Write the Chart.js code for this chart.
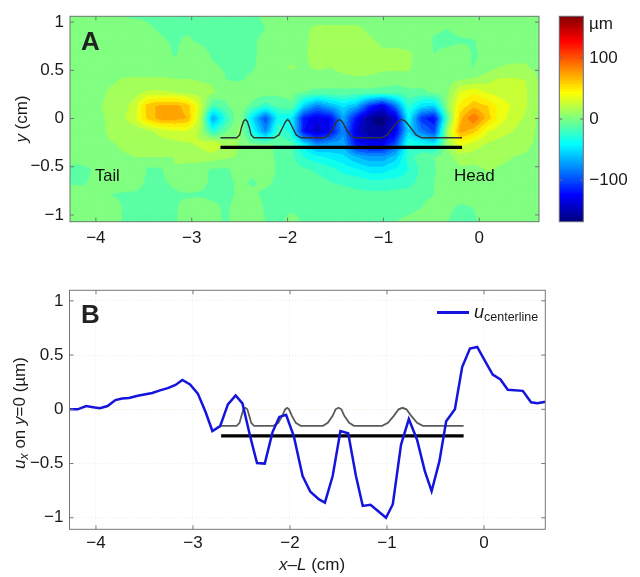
<!DOCTYPE html>
<html>
<head>
<meta charset="utf-8">
<script src="https://cdn.jsdelivr.net/npm/chart.js@4"></script>
<style>
  body { margin: 0; background: #fff; font-family: "Liberation Sans", Arial, sans-serif; color: #1a1a1a; }
  #page { position: relative; width: 640px; height: 577px; overflow: hidden; }
  canvas { position: absolute; }
  .note { position: absolute; white-space: nowrap; line-height: 1; }
  .rot { transform: translate(-50%, -50%) rotate(-90deg); }
  .panel { font-weight: bold; font-size: 26px; color: #222; }
  sub { font-size: 0.72em; vertical-align: -0.25em; line-height: 0; }
</style>
</head>
<body>
<div id="page">
  <canvas id="fieldChart" style="left:0;top:0"></canvas>
  <canvas id="barChart" style="left:540px;top:0"></canvas>
  <canvas id="lineChart" style="left:0;top:270px"></canvas>

  <div class="note panel" style="left:81px;top:28px">A</div>
  <div class="note panel" style="left:81px;top:301px">B</div>
  <div class="note" style="left:95px;top:167px;font-size:16.5px;color:#111">Tail</div>
  <div class="note" style="left:454px;top:167px;font-size:17px;color:#111">Head</div>
  <div class="note" style="left:589px;top:15px;font-size:17px">&micro;m</div>
  <div class="note rot" style="left:21px;top:119px;font-size:17px"><i>y</i> (cm)</div>
  <div class="note rot" style="left:19px;top:413px;font-size:17px"><i>u<sub>x</sub></i> on <i>y</i>=0 (&micro;m)</div>
  <div class="note" style="left:279px;top:556px;font-size:17px"><i>x</i>&ndash;<i>L</i> (cm)</div>
  <div class="note" style="left:437px;top:311px;width:32px;height:2.5px;background:#1414dc"></div>
  <div class="note" style="left:474px;top:303px;font-size:18px"><i>u</i><sub style="font-size:12.5px">centerline</sub></div>
</div>

<script>
// tick labels
const xTicks = [-4, -3, -2, -1, 0];
const yTicks = [-1, -0.5, 0, 0.5, 1];
const barTicks = [-100, 0, 100];

// displacement field on the fish plane (um)
const xGrid = [-4.27,-4.13,-4.0,-3.86,-3.73,-3.59,-3.46,-3.32,-3.18,-3.05,-2.91,-2.78,-2.64,-2.5,-2.37,-2.23,-2.1,-1.96,-1.83,-1.69,-1.55,-1.42,-1.28,-1.15,-1.01,-0.88,-0.74,-0.6,-0.47,-0.33,-0.2,-0.06,0.08,0.21,0.35,0.48,0.62];
const yGrid = [1.06,0.93,0.8,0.66,0.53,0.4,0.27,0.13,0,-0.13,-0.27,-0.4,-0.53,-0.66,-0.8,-0.93,-1.07];
const fieldRows = [
  [0,0,0,0,-6,-8,-8,-8,-8,-8,-8,-8,-8,-8,-8,-4,0,2,4,2,2,2,2,2,2,0,2,0,0,0,2,2,2,4,4,2,0],
  [0,0,0,0,0,2,-4,-8,-8,-8,-8,-10,-8,-10,-10,-6,0,2,4,8,8,8,8,4,0,2,2,2,-4,-6,-2,0,2,4,2,0,0],
  [0,0,0,0,0,0,0,-4,-8,-4,-8,-10,-10,-10,-8,-2,2,2,4,10,12,12,12,8,4,4,4,2,-8,-9,-8,-7,0,0,0,0,0],
  [0,0,0,0,0,0,0,0,-7,-2,0,-8,-10,-10,-8,-2,2,2,4,12,14,14,14,12,8,8,7,4,-6,-2,4,-8,-2,2,2,2,0],
  [0,0,0,0,0,0,0,0,-2,-2,0,-4,-8,-8,-7,-2,4,7,4,8,6,14,16,12,8,10,8,-2,-6,-6,-6,-6,0,6,8,8,2],
  [0,0,0,3,7,8,8,8,7,7,5,4,-6,-7,-4,-2,0,0,-2,-2,-2,-2,2,2,2,-2,2,-2,-2,2,6,8,14,20,20,18,5],
  [0,0,0,8,10,14,20,20,18,14,12,8,-2,2,2,0,-2,-2,-6,-8,-8,-8,-10,-10,-12,-12,-10,-8,-4,4,30,40,28,24,24,20,5],
  [0,0,3,10,12,24,60,70,70,62,26,-20,-8,4,-10,-25,-15,-8,-55,-85,-65,-50,-65,-110,-135,-90,-25,-50,-55,8,45,62,55,38,28,20,5],
  [0,0,2,8,14,28,58,72,72,66,20,-72,-25,6,-50,-100,-40,-45,-120,-135,-125,-70,-125,-160,-168,-145,-40,-110,-125,-10,62,90,62,36,24,16,4],
  [0,0,0,8,8,10,14,24,30,30,14,-30,-6,8,-35,-80,-20,-35,-125,-145,-125,-80,-140,-160,-160,-135,-55,-85,-105,15,72,60,32,24,18,12,4],
  [0,0,0,5,7,8,7,10,12,16,20,30,12,5,-4,-4,-8,-15,-45,-80,-70,-70,-120,-130,-130,-100,-30,-35,-45,10,35,24,16,12,10,8,4],
  [-2,0,0,2,5,6,6,6,6,8,12,12,8,5,2,-2,-8,-14,-30,-38,-45,-50,-65,-75,-75,-60,-25,-8,-6,0,12,12,10,8,6,5,2],
  [-9,-9,-4,-2,2,6,-8,-8,6,4,-2,-8,-8,0,-4,-2,-7,-12,-16,-20,-25,-35,-40,-48,-48,-40,-30,-14,-7,0,4,2,7,5,4,2,0],
  [-8,-8,-2,-2,0,-2,-8,-8,-4,3,-2,-9,-9,-4,-7,-4,-8,-10,-12,-14,-18,-20,-22,-26,-26,-26,-24,-12,-6,0,4,3,0,0,-4,0,0],
  [0,2,-2,-6,-8,-8,-8,-8,-8,-8,-8,-9,-9,-4,-4,-8,-9,-9,-9,-10,-12,-12,-14,-14,-14,-12,-10,-8,-6,-2,-2,-2,0,0,0,0,0],
  [2,3,-6,3,-6,-8,-9,-9,-9,2,4,-2,-9,2,2,-8,-9,-8,-8,-8,-10,-8,-8,-10,-12,-10,-8,-6,-2,-4,-8,-6,0,0,0,0,0],
  [2,3,-4,4,-6,-9,-9,-9,-9,3,5,-2,-8,3,3,-6,-9,-2,-8,-8,-10,-6,-6,-10,-9,-6,-4,-2,0,-6,-9,-8,-2,0,0,0,0]
];

// centreline displacement, panel B
const uX = [-4.274,-4.19,-4.10,-4.03,-3.96,-3.88,-3.80,-3.73,-3.66,-3.57,-3.42,-3.34,-3.26,-3.18,-3.11,-3.03,-2.95,-2.87,-2.80,-2.72,-2.64,-2.56,-2.49,-2.41,-2.34,-2.26,-2.18,-2.11,-2.04,-1.96,-1.87,-1.79,-1.70,-1.64,-1.56,-1.48,-1.40,-1.32,-1.25,-1.17,-1.09,-1.01,-0.94,-0.855,-0.775,-0.69,-0.61,-0.54,-0.46,-0.39,-0.30,-0.225,-0.145,-0.07,0.02,0.09,0.17,0.245,0.40,0.485,0.55,0.635];
const uY = [0,0,0.03,0.02,0.01,0.03,0.085,0.10,0.105,0.125,0.15,0.175,0.195,0.225,0.27,0.23,0.145,-0.025,-0.20,-0.155,0.045,0.128,0.055,-0.25,-0.495,-0.50,-0.21,-0.07,-0.05,-0.25,-0.615,-0.76,-0.83,-0.86,-0.615,-0.20,-0.22,-0.615,-0.89,-0.88,-0.94,-1.0,-0.875,-0.325,-0.09,-0.28,-0.57,-0.755,-0.48,-0.11,0,0.39,0.56,0.575,0.43,0.32,0.275,0.18,0.17,0.065,0.055,0.07];

// fish outline with the four fins, both panels
const finAX = [-2.70,-2.53,-2.50,-2.48,-2.46,-2.44,-2.42,-2.40,-2.38,-2.35,-2.14,-2.09,-2.05,-2.02,-2.00,-1.98,-1.95,-1.91,-1.86,-1.62,-1.57,-1.52,-1.49,-1.46,-1.43,-1.40,-1.35,-1.30,-1.02,-0.96,-0.90,-0.85,-0.81,-0.77,-0.72,-0.66,-0.60,-0.18];
const finAY = [-0.20,-0.20,-0.17,-0.09,-0.03,-0.01,-0.03,-0.09,-0.17,-0.20,-0.20,-0.17,-0.09,-0.03,-0.01,-0.03,-0.09,-0.17,-0.20,-0.20,-0.17,-0.09,-0.03,-0.01,-0.03,-0.09,-0.17,-0.20,-0.20,-0.17,-0.09,-0.03,-0.01,-0.03,-0.09,-0.17,-0.20,-0.20];
const finBX = [-2.71,-2.55,-2.52,-2.50,-2.48,-2.46,-2.44,-2.42,-2.40,-2.37,-2.17,-2.12,-2.08,-2.05,-2.03,-2.01,-1.98,-1.94,-1.89,-1.66,-1.61,-1.56,-1.53,-1.50,-1.47,-1.44,-1.39,-1.34,-1.05,-0.99,-0.93,-0.88,-0.84,-0.80,-0.75,-0.69,-0.63,-0.21];
const finBY = [-0.152,-0.152,-0.125,-0.06,0,0.014,0,-0.06,-0.125,-0.152,-0.152,-0.125,-0.06,0,0.014,0,-0.06,-0.125,-0.152,-0.152,-0.125,-0.06,0,0.014,0,-0.06,-0.125,-0.152,-0.152,-0.125,-0.06,0,0.014,0,-0.06,-0.125,-0.152,-0.152];

// body bar
const bodyAX = [-2.70, -0.18];
const bodyAY = [-0.30, -0.30];
const bodyBX = [-2.71, -0.21];
const bodyBY = [-0.244, -0.244];

const FIELD_MAX = 168;
const BAND = 12;

function jet(v) {
  const t = (v + FIELD_MAX) / (2 * FIELD_MAX);
  const c = k => Math.round(255 * Math.max(0, Math.min(1, 1.5 - Math.abs(4 * t - k))));
  return `rgb(${c(3)},${c(2)},${c(1)})`;
}

function toXY(xs, ys) {
  return xs.map((x, i) => ({ x, y: ys[i] }));
}

function minus(v) {
  return String(v).replace('-', '\u2212');
}

// contour-filled field, each grid cell placed through the scales
const fieldPlugin = {
  id: 'field',
  beforeDatasetsDraw(chart) {
    const { ctx, chartArea: a, scales: { x, y } } = chart;
    ctx.save();
    ctx.beginPath();
    ctx.rect(a.left, a.top, a.width, a.height);
    ctx.clip();
    for (let j = 0; j < yGrid.length - 1; j++) {
      const y0 = y.getPixelForValue(yGrid[j]), y1 = y.getPixelForValue(yGrid[j + 1]);
      const ny = Math.ceil(y1 - y0);
      for (let i = 0; i < xGrid.length - 1; i++) {
        const x0 = x.getPixelForValue(xGrid[i]), x1 = x.getPixelForValue(xGrid[i + 1]);
        const nx = Math.ceil(x1 - x0);
        const q = fieldRows[j][i], r = fieldRows[j][i + 1];
        const s = fieldRows[j + 1][i], w = fieldRows[j + 1][i + 1];
        for (let b = 0; b < ny; b++) {
          const tb = (b + 0.5) / ny;
          for (let c = 0; c < nx; c++) {
            const tc = (c + 0.5) / nx;
            const v = (q * (1 - tc) + r * tc) * (1 - tb) + (s * (1 - tc) + w * tc) * tb;
            ctx.fillStyle = jet(Math.round(v / BAND) * BAND);
            ctx.fillRect(x0 + (x1 - x0) * c / nx, y0 + (y1 - y0) * b / ny, (x1 - x0) / nx + 0.6, (y1 - y0) / ny + 0.6);
          }
        }
      }
    }
    ctx.restore();
  }
};

// box round the plot with matlab style inward ticks on all sides
const framePlugin = {
  id: 'frame',
  afterDatasetsDraw(chart, args, opts) {
    const { ctx, chartArea: a, scales: { x, y } } = chart;
    const len = opts.tick;
    ctx.save();
    ctx.strokeStyle = opts.color;
    ctx.lineWidth = 1;
    ctx.strokeRect(a.left, a.top, a.width, a.height);
    ctx.beginPath();
    if (x.options.display) {
      x.ticks.forEach(t => {
        const p = x.getPixelForValue(t.value);
        ctx.moveTo(p, a.top); ctx.lineTo(p, a.top + len);
        ctx.moveTo(p, a.bottom); ctx.lineTo(p, a.bottom - len);
      });
    }
    y.ticks.forEach(t => {
      const p = y.getPixelForValue(t.value);
      ctx.moveTo(a.left, p); ctx.lineTo(a.left + len, p);
      ctx.moveTo(a.right, p); ctx.lineTo(a.right - len, p);
    });
    ctx.stroke();
    ctx.restore();
  }
};

const tickFont = { family: '"Liberation Sans", Arial, sans-serif', size: 17 };

function axis(min, max, ticks, size, extra, padding = 6) {
  return Object.assign({
    type: 'linear',
    min, max,
    afterBuildTicks: s => { s.ticks = ticks.map(value => ({ value })); },
    afterFit: s => {
      if (s.isHorizontal()) s.height = size; else s.width = size;
    },
    border: { display: false },
    grid: { display: false, drawTicks: false },
    ticks: { color: '#1a1a1a', font: tickFont, padding, maxRotation: 0, autoSkip: false, callback: v => minus(v) }
  }, extra);
}

function lineSet(data, color, width) {
  return { data, borderColor: color, borderWidth: width, pointRadius: 0, tension: 0, fill: false, showLine: true, borderCapStyle: 'butt' };
}

Chart.defaults.animation = false;
Chart.defaults.responsive = false;
Chart.defaults.plugins.legend.display = false;
Chart.defaults.plugins.tooltip.enabled = false;

function size(id, w, h) {
  const el = document.getElementById(id);
  el.width = w; el.height = h;
  el.style.width = w + 'px'; el.style.height = h + 'px';
  return el;
}

new Chart(size('fieldChart', 545, 262), {
  type: 'scatter',
  data: {
    datasets: [
      lineSet(toXY(finAX, finAY), '#333', 1.4),
      lineSet(toXY(bodyAX, bodyAY), '#000', 3.2)
    ]
  },
  options: {
    layout: { padding: { left: 0, top: 16.3, right: 6, bottom: 0 } },
    scales: {
      x: axis(-4.27, 0.623, xTicks, 40.3),
      y: axis(-1.07, 1.06, yTicks, 70)
    },
    plugins: { frame: { tick: 4, color: '#6a7a70' } }
  },
  plugins: [fieldPlugin, framePlugin]
});

// colour bar as floating bars, one per colour step
const barLevels = [];
for (let v = -FIELD_MAX; v < FIELD_MAX; v += 4) barLevels.push(v);

new Chart(size('barChart', 100, 262), {
  type: 'bar',
  data: {
    labels: [''],
    datasets: barLevels.map(v => ({
      data: [[v, v + 4.6]],
      backgroundColor: jet(v + 2),
      borderWidth: 0,
      grouped: false,
      barPercentage: 1,
      categoryPercentage: 1
    }))
  },
  options: {
    layout: { padding: { left: 19.3, top: 16.3, right: 0, bottom: 40.3 } },
    scales: {
      x: { display: false, type: 'category' },
      y: axis(-FIELD_MAX, FIELD_MAX, barTicks, 56.7, { position: 'right' })
    },
    plugins: { frame: { tick: 3, color: '#667' } }
  },
  plugins: [framePlugin]
});

new Chart(size('lineChart', 552, 307), {
  type: 'scatter',
  data: {
    datasets: [
      lineSet(toXY(uX, uY), '#1414dc', 2.5),
      lineSet(toXY(finBX, finBY), 'rgba(50,50,50,0.8)', 1.8),
      lineSet(toXY(bodyBX, bodyBY), '#000', 3.2)
    ]
  },
  options: {
    layout: { padding: { left: 0, top: 20.3, right: 6.7, bottom: 0 } },
    scales: {
      x: axis(-4.273, 0.632, xTicks, 47.7, {
        border: { display: false, dash: [1, 2] },
        grid: { display: true, drawTicks: false, color: '#eeeeee' }
      }, 4),
      y: axis(-1.106, 1.097, yTicks, 69.5, {
        border: { display: false, dash: [1, 2] },
        grid: { display: true, drawTicks: false, color: c => c.tick && c.tick.value === 0 ? '#efe8cc' : '#eeeeee' }
      })
    },
    plugins: { frame: { tick: 4, color: '#777' } }
  },
  plugins: [framePlugin]
});
</script>
</body>
</html>
